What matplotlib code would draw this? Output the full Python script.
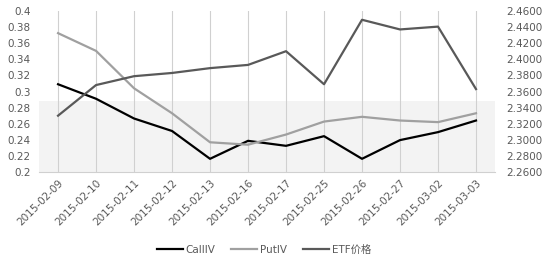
import numpy as np
import matplotlib.pyplot as plt
from matplotlib.ticker import FuncFormatter

plt.rcParams['font.family'] = ['DejaVu Sans', 'Noto Sans CJK SC']

dates = ["2015-02-09", "2015-02-10", "2015-02-11", "2015-02-12", "2015-02-13", "2015-02-16",
         "2015-02-17", "2015-02-25", "2015-02-26", "2015-02-27", "2015-03-02", "2015-03-03"]
call_iv = [0.309, 0.291, 0.2665, 0.251, 0.2165, 0.2388, 0.2326, 0.2446, 0.2165, 0.2397, 0.2496, 0.264]
put_iv = [0.3724, 0.3504, 0.304, 0.273, 0.237, 0.234, 0.2466, 0.2627, 0.2686, 0.264, 0.262, 0.273]
etf = [2.330, 2.368, 2.379, 2.383, 2.389, 2.393, 2.410, 2.369, 2.449, 2.437, 2.4405, 2.363]

x = np.arange(len(dates))
tc = '#595959'

fig = plt.figure(figsize=(5.5, 2.66), dpi=100)
ax = fig.add_axes([0.071, 0.353, 0.829, 0.606])
ax2 = ax.twinx()

ax.axhspan(0.2, 0.288, color='#f3f3f3', zorder=0, lw=0)
for xi in x:
    ax.axvline(xi, color='#d0d0d0', lw=0.8, zorder=1)

l1, = ax.plot(x, call_iv, color='#000000', lw=1.6, label='CallIV', zorder=3)
l2, = ax.plot(x, put_iv, color='#a0a0a0', lw=1.6, label='PutIV', zorder=3)
l3, = ax2.plot(x, etf, color='#595959', lw=1.6, label='ETF价格', zorder=3)

ax.set_xlim(-0.5, len(dates) - 0.5)
ax.set_ylim(0.2, 0.4)
ax.set_yticks(np.arange(0.2, 0.4001, 0.02))
ax.yaxis.set_major_formatter(FuncFormatter(lambda v, p: '{:g}'.format(round(v, 2))))
ax2.set_ylim(2.26, 2.46)
ax2.set_yticks(np.arange(2.26, 2.4601, 0.02))
ax2.yaxis.set_major_formatter(FuncFormatter(lambda v, p: '%.4f' % v))

ax.set_xticks(x)
ax.set_xticklabels(dates, rotation=45, ha='right', rotation_mode='anchor')

for a in (ax, ax2):
    for s in a.spines.values():
        s.set_visible(False)
    a.tick_params(length=0, labelsize=7.5, colors=tc)
ax.spines['bottom'].set_visible(True)
ax.spines['bottom'].set_color('#d0d0d0')
ax.tick_params(axis='x', pad=4)
ax.tick_params(axis='y', pad=6)
ax2.tick_params(axis='y', pad=8)

fig.legend(handles=[l1, l2, l3], loc='center', bbox_to_anchor=(0.48, 0.06), ncol=3,
           frameon=False, fontsize=7.5, handlelength=2.5, handletextpad=0.3,
           columnspacing=1.5, labelcolor=tc)

fig.savefig('out.png', dpi=100)
